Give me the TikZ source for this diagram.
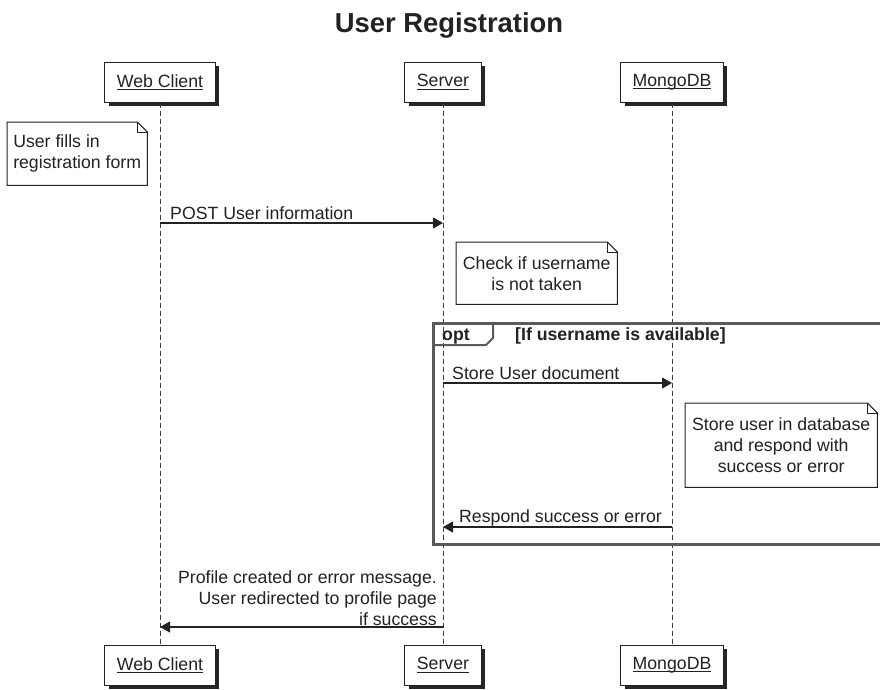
\documentclass[tikz,border=0pt]{standalone}
\usepackage{fontspec}
\setmainfont{Liberation Sans}
\usetikzlibrary{positioning,arrows.meta,shadows}
\definecolor{ink}{RGB}{34,34,34}
\definecolor{lifegray}{RGB}{60,60,60}
\definecolor{framegray}{RGB}{90,90,90}
% underlined participant name
\newcommand\partlbl[1]{\setbox0\hbox{#1}\rlap{\rule[-2.8pt]{\wd0}{0.9pt}}\box0}
% note outline with folded corner
\newcommand\notefold[1]{%
  \draw[noteline] (#1.south west) -- (#1.north west) -- ([xshift=-10pt]#1.north east)
    -- ([yshift=-10pt]#1.north east) -- (#1.south east) -- cycle;
  \draw[noteline] ([xshift=-10pt]#1.north east) |- ([yshift=-10pt]#1.north east);}

\begin{document}
\begin{tikzpicture}[x=1pt,y=-1pt,
  every node/.style={font=\fontsize{17.7}{21}\selectfont, text=ink},
  actor/.style={draw=ink, line width=1pt, fill=white, inner xsep=12pt, minimum height=40pt,
    drop shadow={shadow xshift=4pt,shadow yshift=-4pt,fill=black!85,opacity=1}},
  life/.style={draw=lifegray, line width=1pt, dash pattern=on 5pt off 3pt},
  msg/.style={draw=ink, line width=1.1pt, -{Triangle[length=10pt,width=11pt]}},
  notebox/.style={inner sep=0pt},
  noteline/.style={draw=ink, line width=1pt},
  lbl/.style={inner sep=0pt}]
\fill[white] (0,0) rectangle (880,689);
\useasboundingbox (0,0) rectangle (880,689);

\node[font=\fontsize{27.4}{32}\selectfont\bfseries, anchor=base] (title) at (449,32) {User Registration};

% participants
\node[actor] (wcTop) at (160,82) {\partlbl{Web Client}};
\node[actor] (svTop) at (443,82) {\partlbl{Server}};
\node[actor] (dbTop) at (672,82) {\partlbl{MongoDB}};
\node[actor] (wcBot) at (160,665) {\partlbl{Web Client}};
\node[actor] (svBot) at (443,665) {\partlbl{Server}};
\node[actor] (dbBot) at (672,665) {\partlbl{MongoDB}};

\draw[life] (wcTop.south) -- (wcBot.north);
\draw[life] (svTop.south) -- (svBot.north);
\draw[life] (dbTop.south) -- (dbBot.north);

% opt frame
\draw[framegray, line width=3pt] (433,323) rectangle (884,544);
\draw[framegray, line width=2pt] (433,345) -- (486,345) -- (493,338) -- (493,323);
\node[lbl, anchor=base west, font=\fontsize{17.7}{21}\selectfont\bfseries] (optLbl) at (442,340) {opt};
\node[lbl, anchor=base west, font=\fontsize{17.7}{21}\selectfont\bfseries] (guardLbl) at (515,340) {[If username is available]};

% notes
\node[notebox, minimum width=140pt, minimum height=63pt, align=left, anchor=north west] (fillNote) at (7,122) {User fills in\\registration form};
\notefold{fillNote}
\node[notebox, minimum width=161pt, minimum height=62pt, align=center, anchor=north west] (checkNote) at (456,242) {Check if username\\is not taken};
\notefold{checkNote}
\node[notebox, minimum width=192pt, minimum height=84pt, align=center, anchor=north west] (storeNote) at (685,403) {Store user in database\\and respond with\\success or error};
\notefold{storeNote}

% messages
\coordinate (postA) at (160,223); \coordinate (postB) at (443,223);
\draw[msg] (postA) -- (postB);
\node[lbl, anchor=base west] (postLbl) at (170,219) {POST User information};

\coordinate (storeA) at (443,383); \coordinate (storeB) at (672,383);
\draw[msg] (storeA) -- (storeB);
\node[lbl, anchor=base west] (storeLbl) at (452,379) {Store User document};

\coordinate (respA) at (672,527); \coordinate (respB) at (443,527);
\draw[msg] (respA) -- (respB);
\node[lbl, anchor=base west] (respLbl) at (459,522) {Respond success or error};

\coordinate (profA) at (443,627); \coordinate (profB) at (160,627);
\draw[msg] (profA) -- (profB);
\node[lbl, anchor=south east, align=right] (profLbl) at (437,626) {Profile created or error message.\\User redirected to profile page\\if success};
\end{tikzpicture}
\end{document}
